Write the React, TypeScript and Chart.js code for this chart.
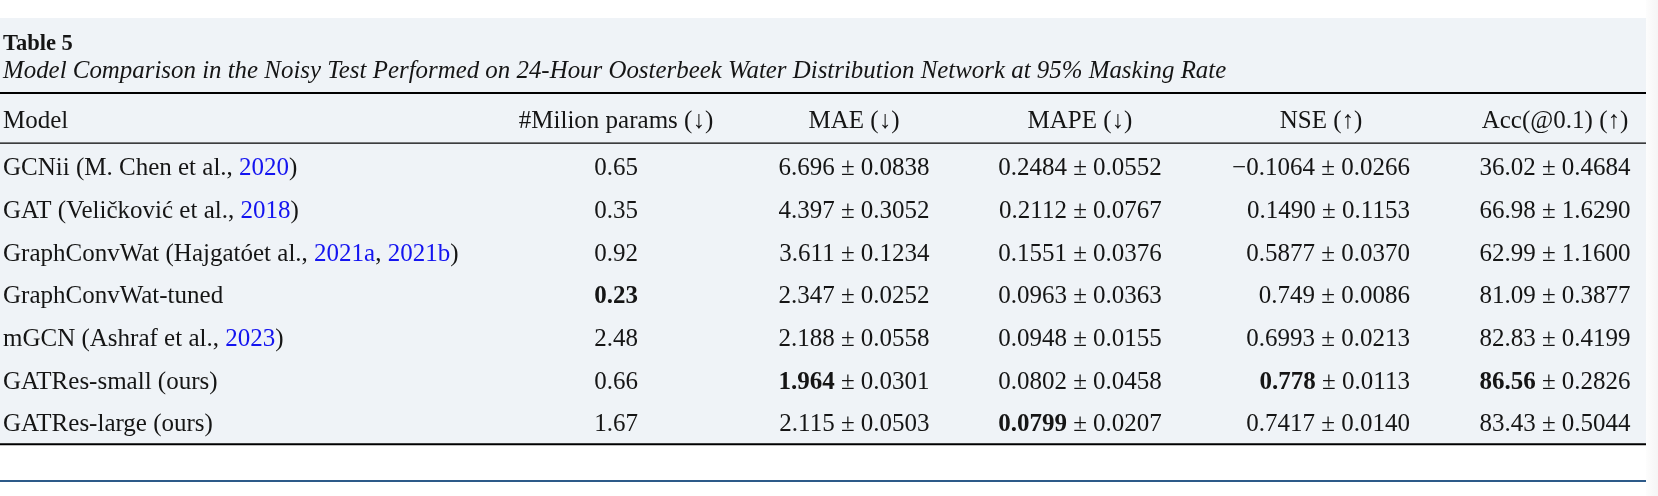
import React, { useEffect, useRef } from 'react';
import { Chart, registerables } from 'chart.js';

Chart.register(...registerables);

// ---------- data ----------
const tableNumber = 'Table 5';
const tableCaption =
  'Model Comparison in the Noisy Test Performed on 24-Hour Oosterbeek Water Distribution Network at 95% Masking Rate';
const columnHeaders = ['Model', '#Milion params (↓)', 'MAE (↓)', 'MAPE (↓)', 'NSE (↑)', 'Acc(@0.1) (↑)'];
const modelNames = ['GCNii', 'GAT', 'GraphConvWat', 'GraphConvWat-tuned', 'mGCN', 'GATRes-small', 'GATRes-large'];
const modelCitations = ['M. Chen et al., ', 'Veličković et al., ', 'Hajgatóet al., ', '', 'Ashraf et al., ', '', ''];
const citationYears = [['2020'], ['2018'], ['2021a', '2021b'], [], ['2023'], [], []];
const modelIsOurs = [false, false, false, false, false, true, true];
const paramsMillions = ['0.65', '0.35', '0.92', '0.23', '2.48', '0.66', '1.67'];
const maeMean = ['6.696', '4.397', '3.611', '2.347', '2.188', '1.964', '2.115'];
const maeStd = ['0.0838', '0.3052', '0.1234', '0.0252', '0.0558', '0.0301', '0.0503'];
const mapeMean = ['0.2484', '0.2112', '0.1551', '0.0963', '0.0948', '0.0802', '0.0799'];
const mapeStd = ['0.0552', '0.0767', '0.0376', '0.0363', '0.0155', '0.0458', '0.0207'];
const nseMean = ['−0.1064', '0.1490', '0.5877', '0.749', '0.6993', '0.778', '0.7417'];
const nseStd = ['0.0266', '0.1153', '0.0370', '0.0086', '0.0213', '0.0113', '0.0140'];
const accMean = ['36.02', '66.98', '62.99', '81.09', '82.83', '86.56', '83.43'];
const accStd = ['0.4684', '1.6290', '1.1600', '0.3877', '0.4199', '0.2826', '0.5044'];
const metricGoal = ['min', 'min', 'min', 'max', 'max'];

// ---------- layout / style ----------
const W = 1658;
const H = 496;
const FONT = '"Liberation Serif", "Times New Roman", serif';
const FS = 25;
const TITLE_FS = 22.5;
const CAPTION_FS = 24.9;
const TEXT = '#151515';
const LINK = '#1414f0';
const PANEL = '#eff3f7';
const PANEL_RIGHT = 1646;
const COL_X = [3, 616, 854, 1080, 1321, 1555];
const ROW_TOP = 145.7;
const ROW_BOTTOM = 444.3;

type Seg = { text: string; bold?: boolean; color?: string; italic?: boolean; size?: number };

const toNum = (s: string) => parseFloat(s.replace('−', '-'));

function bestIndex(values: string[], goal: string) {
  let best = 0;
  values.forEach((v, i) => {
    const a = toNum(v);
    const b = toNum(values[best]);
    if (goal === 'min' ? a < b : a > b) best = i;
  });
  return best;
}

function fontOf(s: Seg) {
  return `${s.italic ? 'italic ' : ''}${s.bold ? 'bold ' : ''}${s.size || FS}px ${FONT}`;
}

function segWidth(ctx: CanvasRenderingContext2D, segs: Seg[]) {
  let w = 0;
  segs.forEach((s) => {
    ctx.font = fontOf(s);
    w += ctx.measureText(s.text).width;
  });
  return w;
}

function drawSegs(ctx: CanvasRenderingContext2D, segs: Seg[], x: number, y: number) {
  let cx = x;
  segs.forEach((s) => {
    ctx.font = fontOf(s);
    ctx.fillStyle = s.color || TEXT;
    ctx.fillText(s.text, cx, y);
    cx += ctx.measureText(s.text).width;
  });
}

function modelSegs(i: number): Seg[] {
  const segs: Seg[] = [{ text: modelNames[i] }];
  if (modelIsOurs[i]) segs.push({ text: ' (ours)' });
  if (modelCitations[i]) {
    segs.push({ text: ' (' + modelCitations[i] });
    citationYears[i].forEach((y, k) => {
      if (k > 0) segs.push({ text: ', ' });
      segs.push({ text: y, color: LINK });
    });
    segs.push({ text: ')' });
  }
  return segs;
}

const tablePlugin = {
  id: 'tablePlugin',
  beforeDraw(chart: any) {
    const ctx: CanvasRenderingContext2D = chart.ctx;
    const xs = chart.scales.x;
    const ys = chart.scales.y;
    const area = chart.chartArea;
    ctx.save();
    ctx.fillStyle = '#ffffff';
    ctx.fillRect(0, 0, W, H);
    const grad = ctx.createLinearGradient(PANEL_RIGHT, 0, W, 0);
    grad.addColorStop(0, '#fdfdfd');
    grad.addColorStop(1, '#f5f5f5');
    ctx.fillStyle = grad;
    ctx.fillRect(PANEL_RIGHT, 0, W - PANEL_RIGHT, H);
    ctx.fillStyle = PANEL;
    ctx.fillRect(0, 18, PANEL_RIGHT, area.bottom - 18);

    ctx.textBaseline = 'alphabetic';
    ctx.textAlign = 'left';
    // title + caption
    drawSegs(ctx, [{ text: tableNumber, bold: true, size: TITLE_FS }], 3, 50);
    drawSegs(ctx, [{ text: tableCaption, italic: true, size: CAPTION_FS }], 3, 78);

    // rules
    const rule = (y: number, lw: number, color = '#000') => {
      ctx.beginPath();
      ctx.strokeStyle = color;
      ctx.lineWidth = lw;
      ctx.moveTo(0, y);
      ctx.lineTo(PANEL_RIGHT, y);
      ctx.stroke();
    };
    rule(93, 2);
    rule(area.top - 2.5, 1.2);
    rule(area.bottom, 2);
    rule(481, 2, '#2d5a89');

    // header
    const capOff = FS * 0.33;
    const headerY = 119.5 + capOff;
    columnHeaders.forEach((h, c) => {
      const segs = [{ text: h }];
      const w = segWidth(ctx, segs);
      const x = xs.getPixelForValue(COL_X[c]);
      drawSegs(ctx, segs, c === 0 ? x : x - w / 2, headerY);
    });

    // body
    const metrics = [
      { mean: paramsMillions, std: null as string[] | null },
      { mean: maeMean, std: maeStd },
      { mean: mapeMean, std: mapeStd },
      { mean: nseMean, std: nseStd },
      { mean: accMean, std: accStd },
    ];
    modelNames.forEach((_, i) => {
      const y = ys.getPixelForValue(i) + capOff;
      drawSegs(ctx, modelSegs(i), xs.getPixelForValue(COL_X[0]), y);
    });
    metrics.forEach((m, k) => {
      const best = bestIndex(m.mean, metricGoal[k]);
      const cells: Seg[][] = m.mean.map((v, i) => {
        const segs: Seg[] = [{ text: v, bold: i === best }];
        if (m.std) segs.push({ text: ' ± ' + m.std[i] });
        return segs;
      });
      const widths = cells.map((s) => segWidth(ctx, s));
      const maxW = Math.max(...widths);
      const right = xs.getPixelForValue(COL_X[k + 1]) + maxW / 2;
      cells.forEach((segs, i) => {
        drawSegs(ctx, segs, right - widths[i], ys.getPixelForValue(i) + capOff);
      });
    });
    ctx.restore();
  },
};

export default function App() {
  const ref = useRef<HTMLCanvasElement | null>(null);
  useEffect(() => {
    if (!ref.current) return;
    const chart = new Chart(ref.current, {
      type: 'scatter',
      data: { datasets: [] },
      options: {
        animation: false,
        responsive: false,
        devicePixelRatio: 1,
        layout: { padding: { top: ROW_TOP, bottom: H - ROW_BOTTOM, left: 0, right: 0 } },
        plugins: { legend: { display: false }, tooltip: { enabled: false }, title: { display: false } },
        scales: {
          x: { type: 'linear', min: 0, max: W, display: false },
          y: { type: 'linear', min: -0.5, max: modelNames.length - 0.5, reverse: true, display: false },
        },
      },
      plugins: [tablePlugin],
    });
    return () => chart.destroy();
  }, []);
  return (
    <div style={{ position: 'absolute', left: 0, top: 0, width: W, height: H, background: '#fff' }}>
      <canvas ref={ref} width={W} height={H} style={{ width: W, height: H, display: 'block' }} />
    </div>
  );
}
